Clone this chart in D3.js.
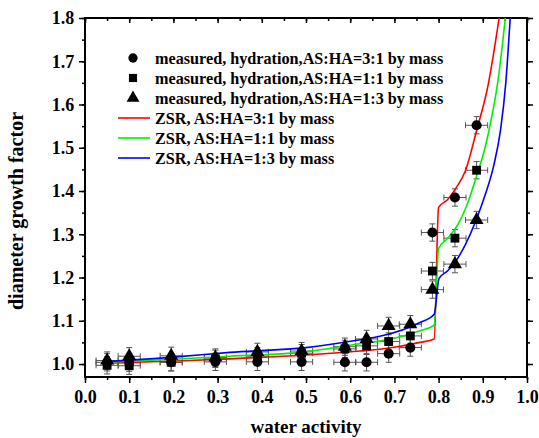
<!DOCTYPE html>
<html><head><meta charset="utf-8">
<script src="https://cdn.jsdelivr.net/npm/d3@7"></script>
<style>body{margin:0;background:#fff}svg{display:block}text{font-family:"Liberation Serif","Times New Roman",serif;font-weight:bold;fill:#000}</style>
</head><body><svg id="c" width="539" height="438"></svg>
<script>
// ---- data ----
const xTicks = [0.0,0.1,0.2,0.3,0.4,0.5,0.6,0.7,0.8,0.9,1.0];
const yTicks = [1.0,1.1,1.2,1.3,1.4,1.5,1.6,1.7,1.8];
const measX = [0.05,0.10,0.195,0.295,0.39,0.49,0.588,0.637,0.687,0.736,0.786,0.837,0.886];
const meas31 = [1.004,1.003,1.004,1.005,1.005,1.005,1.004,1.004,1.024,1.038,1.304,1.385,1.552];
const meas11 = [0.997,0.996,1.004,1.012,1.018,1.025,1.035,1.042,1.052,1.065,1.215,1.291,1.448];
const meas13 = [1.008,1.018,1.019,1.015,1.028,1.030,1.040,1.058,1.088,1.092,1.172,1.231,1.333];
const errX = 0.025, errY = 0.02;
const zsr31 = [[0.05,1.002],[0.2,1.007],[0.328,1.012],[0.5,1.021],[0.622,1.030],[0.667,1.034],[0.758,1.050],[0.79,1.058],[0.80,1.362],[0.82,1.38],[0.84,1.408],[0.86,1.445],[0.886,1.54],[0.912,1.645],[0.937,1.80]];
const zsr11 = [[0.05,1.004],[0.2,1.011],[0.328,1.018],[0.5,1.028],[0.622,1.047],[0.667,1.053],[0.758,1.077],[0.79,1.090],[0.80,1.267],[0.82,1.29],[0.841,1.318],[0.865,1.37],[0.886,1.435],[0.905,1.50],[0.92,1.57],[0.935,1.66],[0.951,1.80]];
const zsr13 = [[0.05,1.006],[0.2,1.016],[0.328,1.027],[0.5,1.038],[0.622,1.056],[0.667,1.064],[0.758,1.096],[0.79,1.115],[0.801,1.198],[0.82,1.215],[0.837,1.235],[0.86,1.275],[0.885,1.333],[0.905,1.39],[0.925,1.46],[0.94,1.54],[0.952,1.65],[0.962,1.80]];
const legendLabels = ["measured, hydration,AS:HA=3:1 by mass","measured, hydration,AS:HA=1:1 by mass","measured, hydration,AS:HA=1:3 by mass","ZSR, AS:HA=3:1 by mass","ZSR, AS:HA=1:1 by mass","ZSR, AS:HA=1:3 by mass"];

// ---- layout ----
const svg = d3.select("#c");
const L=85, R=527, T=18, B=377;
const x = d3.scaleLinear().domain([0,1]).range([L,R]);
const y = d3.scaleLinear().domain([0.97,1.8]).range([B,T]);
const minorX = d3.range(0,21).map(i=>i*0.05);
const minorY = d3.range(0,17).map(i=>1.0+i*0.05);

const g = svg.append("g");
const bx = d3.axisBottom(x).tickValues(xTicks).tickFormat(d3.format(".1f")).tickSize(6).tickSizeOuter(0);
const gb = g.append("g").attr("transform",`translate(0,${B})`).call(bx);
gb.selectAll("text").attr("font-size",18).attr("dy","0.95em");
g.append("g").attr("transform",`translate(0,${B})`).call(d3.axisBottom(x).tickValues(minorX).tickSize(3).tickFormat("").tickSizeOuter(0));
const ly = d3.axisLeft(y).tickValues(yTicks).tickFormat(d3.format(".1f")).tickSize(6).tickSizeOuter(0);
const gl = g.append("g").attr("transform",`translate(${L},0)`).call(ly);
gl.selectAll("text").attr("font-size",18).attr("dx","-0.1em");
g.append("g").attr("transform",`translate(${L},0)`).call(d3.axisLeft(y).tickValues(minorY).tickSize(3).tickFormat("").tickSizeOuter(0));
g.append("g").attr("transform",`translate(0,${T})`).call(d3.axisBottom(x).tickValues(xTicks).tickSize(5).tickFormat("").tickSizeOuter(0));
g.append("g").attr("transform",`translate(0,${T})`).call(d3.axisBottom(x).tickValues(minorX).tickSize(3).tickFormat("").tickSizeOuter(0));
g.append("g").attr("transform",`translate(${R},0)`).call(d3.axisRight(y).tickValues(yTicks).tickSize(6).tickFormat("").tickSizeOuter(0));
g.append("g").attr("transform",`translate(${R},0)`).call(d3.axisRight(y).tickValues(minorY).tickSize(3).tickFormat("").tickSizeOuter(0));
g.selectAll(".domain").remove();
g.selectAll(".tick line").attr("stroke","#000").attr("stroke-width",1.5);
g.append("rect").attr("x",L).attr("y",T).attr("width",R-L).attr("height",B-T).attr("fill","none").attr("stroke","#000").attr("stroke-width",2);

svg.append("clipPath").attr("id","clip").append("rect").attr("x",L).attr("y",T).attr("width",R-L).attr("height",B-T);
const plot = svg.append("g").attr("clip-path","url(#clip)");

const series = [
  {vals:meas31, sym:d3.symbolCircle, size:80},
  {vals:meas11, sym:d3.symbolSquare, size:78},
  {vals:meas13, sym:d3.symbolTriangle, size:85}
];
const eb = plot.append("g").attr("stroke","#555").attr("stroke-width",1).attr("fill","none");
series.forEach(s=>{
  measX.forEach((mx,i)=>{
    const cx=x(mx), cy=y(s.vals[i]);
    const x0=x(mx-errX), x1=x(mx+errX), y0=y(s.vals[i]-errY), y1=y(s.vals[i]+errY);
    eb.append("line").attr("x1",x0).attr("x2",x1).attr("y1",cy).attr("y2",cy);
    eb.append("line").attr("x1",x0).attr("x2",x0).attr("y1",cy-3).attr("y2",cy+3);
    eb.append("line").attr("x1",x1).attr("x2",x1).attr("y1",cy-3).attr("y2",cy+3);
    eb.append("line").attr("x1",cx).attr("x2",cx).attr("y1",y0).attr("y2",y1);
    eb.append("line").attr("x1",cx-3).attr("x2",cx+3).attr("y1",y0).attr("y2",y0);
    eb.append("line").attr("x1",cx-3).attr("x2",cx+3).attr("y1",y1).attr("y2",y1);
  });
});
const line = d3.line().x(d=>x(d[0])).y(d=>y(d[1])).curve(d3.curveMonotoneX);
[[zsr31,"#ff0000"],[zsr11,"#00ee00"],[zsr13,"#0000ff"]].forEach(([d,c])=>{
  plot.append("path").attr("d",line(d)).attr("fill","none").attr("stroke",c).attr("stroke-width",1.6);
});
series.forEach(s=>{
  plot.append("g").selectAll("path").data(measX).join("path")
    .attr("transform",(mx,i)=>`translate(${x(mx)},${y(s.vals[i])})`)
    .attr("d",d3.symbol().type(s.sym).size(s.size)).attr("fill","#000");
});

const lg = svg.append("g");
const rowY = [58,78,98,118,138,158];
legendLabels.forEach((t,i)=>{
  if(i<3){
    lg.append("path").attr("transform",`translate(133,${rowY[i]})`).attr("d",d3.symbol().type(series[i].sym).size(series[i].size*0.85)).attr("fill","#000");
  } else {
    const c=["#ff0000","#00ee00","#0000ff"][i-3];
    lg.append("line").attr("x1",118).attr("x2",150).attr("y1",rowY[i]).attr("y2",rowY[i]).attr("stroke",c).attr("stroke-width",1.6);
  }
  lg.append("text").attr("x",155).attr("y",rowY[i]+5.5).attr("font-size",16.2).text(t);
});

svg.append("text").attr("x",(L+R)/2).attr("y",433).attr("text-anchor","middle").attr("font-size",19).text("water activity");
svg.append("text").attr("transform",`translate(23,211) rotate(-90)`).attr("text-anchor","middle").attr("font-size",20).text("diameter growth factor");
</script></body></html>
